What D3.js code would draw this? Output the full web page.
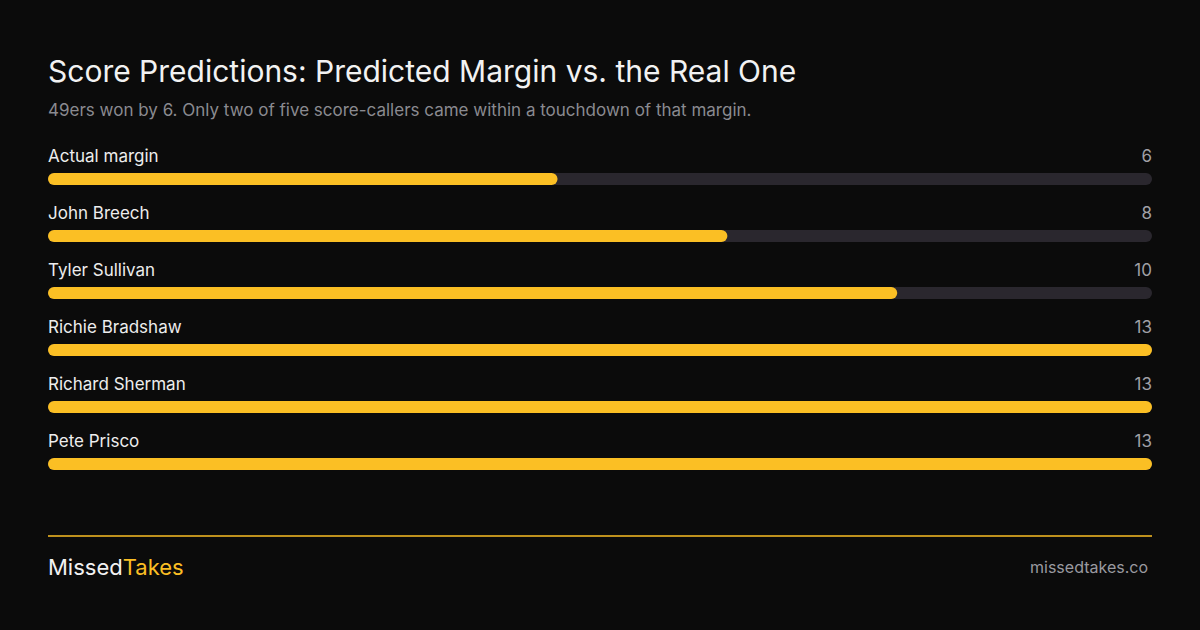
<!DOCTYPE html>
<html><head><meta charset="utf-8">
<script src="https://cdn.jsdelivr.net/npm/d3@7"></script>
<style>body{margin:0;background:#0b0b0b;}svg{display:block;}</style>
</head><body><svg width="1200" height="630"></svg>
<script>
var names = ['Actual margin', 'John Breech', 'Tyler Sullivan', 'Richie Bradshaw', 'Richard Sherman', 'Pete Prisco'];
var margins = [6, 8, 10, 13, 13, 13];
var maxMargin = 13;

var svg = d3.select('svg');
var font = 'Inter, "Noto Sans", sans-serif';

svg.append('rect').attr('width', 1200).attr('height', 630).attr('fill', '#0b0b0b');

svg.append('text').attr('x', 48).attr('y', 82)
    .attr('font-family', font).attr('font-size', 30).attr('fill', '#f2f2f2')
    .text('Score Predictions: Predicted Margin vs. the Real One');
svg.append('text').attr('x', 48).attr('y', 116)
    .attr('font-family', font).attr('font-size', 17).attr('fill', '#8a8a90')
    .text('49ers won by 6. Only two of five score-callers came within a touchdown of that margin.');

var x = d3.scaleLinear().domain([0, maxMargin]).range([48, 1152]);
var y = d3.scaleBand().domain(names).range([140, 482]);

var rows = svg.selectAll('g.row').data(names).enter().append('g')
    .attr('transform', function(d){ return 'translate(0,' + y(d) + ')'; });

rows.append('text').attr('x', 48).attr('y', 22)
    .attr('font-family', font).attr('font-size', 17).attr('fill', '#ededed')
    .text(function(d){ return d; });
rows.append('text').attr('x', 1152).attr('y', 22).attr('text-anchor', 'end')
    .attr('font-family', font).attr('font-size', 17).attr('fill', '#a0a0a6')
    .text(function(d, i){ return margins[i]; });
rows.append('rect').attr('x', x(0)).attr('y', 33).attr('height', 12).attr('rx', 6)
    .attr('width', x(maxMargin) - x(0)).attr('fill', '#2a272e');
rows.append('rect').attr('x', x(0)).attr('y', 33).attr('height', 12).attr('rx', 6)
    .attr('width', function(d, i){ return x(margins[i]) - x(0); }).attr('fill', '#fbbf24');

svg.append('line').attr('x1', 48).attr('x2', 1152).attr('y1', 536).attr('y2', 536)
    .attr('stroke', '#fbbf24').attr('stroke-width', 1.5);

var brand = svg.append('text').attr('x', 48).attr('y', 575)
    .attr('font-family', font).attr('font-size', 22);
brand.append('tspan').attr('fill', '#f2f2f2').text('Missed');
brand.append('tspan').attr('fill', '#fbbf24').text('Takes');

svg.append('text').attr('x', 1148).attr('y', 573).attr('text-anchor', 'end')
    .attr('font-family', font).attr('font-size', 16).attr('fill', '#9a9aa0')
    .text('missedtakes.co');
</script></body></html>
